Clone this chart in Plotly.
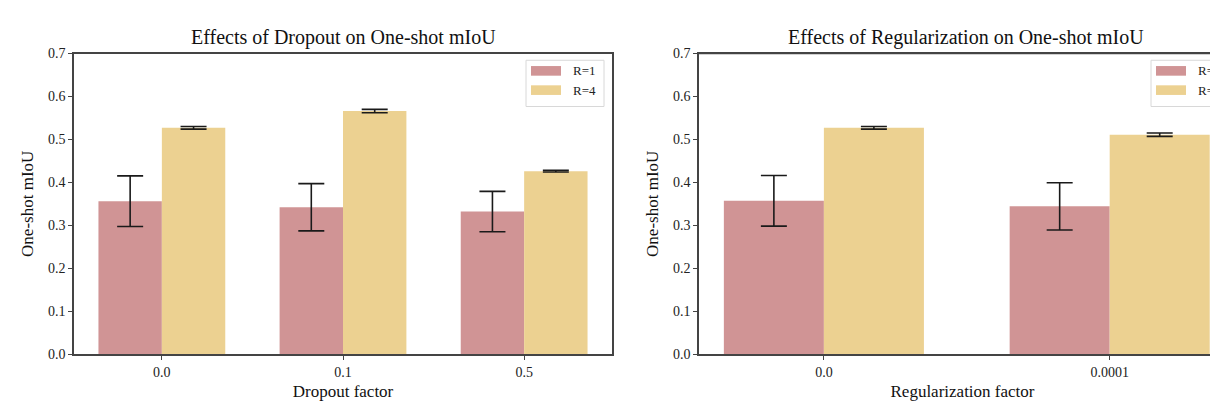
import plotly.graph_objects as go

# ---- data ----
dropout_cats = ["0.0", "0.1", "0.5"]
dropout_r1 = [0.356, 0.342, 0.332]
dropout_r1_err = [0.059, 0.055, 0.047]
dropout_r4 = [0.527, 0.566, 0.426]
dropout_r4_err = [0.003, 0.004, 0.002]

reg_cats = ["0.0", "0.0001"]
reg_r1 = [0.357, 0.344]
reg_r1_err = [0.059, 0.055]
reg_r4 = [0.527, 0.511]
reg_r4_err = [0.003, 0.004]

series_names = ["R=1", "R=4"]
colors = ["#d09495", "#ecd191"]

W, H = 1218, 408
FONT = "Liberation Serif"
AX = "#444444"


def px_x(v):
    return v / W


def px_y(v):
    return 1 - v / H


fig = go.Figure()

err_style = dict(type="data", color="#1a1a1a", thickness=1.6, width=13)

# left panel
fig.add_trace(go.Bar(x=list(range(len(dropout_cats))), y=dropout_r1, name=series_names[0],
                     marker=dict(color=colors[0], line=dict(width=0)),
                     error_y=dict(array=dropout_r1_err, **err_style),
                     xaxis="x", yaxis="y", showlegend=False))
fig.add_trace(go.Bar(x=list(range(len(dropout_cats))), y=dropout_r4, name=series_names[1],
                     marker=dict(color=colors[1], line=dict(width=0)),
                     error_y=dict(array=dropout_r4_err, **err_style),
                     xaxis="x", yaxis="y", showlegend=False))
# right panel
fig.add_trace(go.Bar(x=list(range(len(reg_cats))), y=reg_r1, name=series_names[0],
                     marker=dict(color=colors[0], line=dict(width=0)),
                     error_y=dict(array=reg_r1_err, **err_style),
                     xaxis="x2", yaxis="y2", showlegend=False))
fig.add_trace(go.Bar(x=list(range(len(reg_cats))), y=reg_r4, name=series_names[1],
                     marker=dict(color=colors[1], line=dict(width=0)),
                     error_y=dict(array=reg_r4_err, **err_style),
                     xaxis="x2", yaxis="y2", showlegend=False))

ydom = [px_y(352), px_y(40)]
tickfont = dict(family=FONT, size=14, color="#222")
titlefont = dict(family=FONT, size=17, color="#111")

common_x = dict(showgrid=False, zeroline=False, ticks="outside", ticklen=4, tickwidth=1.2,
                tickcolor=AX, showline=True, linecolor=AX, linewidth=1.5, tickfont=tickfont,
                title_font=titlefont, title_standoff=6)
common_y = dict(showgrid=False, zeroline=False, ticks="outside", ticklen=4, tickwidth=1.2,
                tickcolor=AX, showline=True, linecolor=AX, linewidth=1.5, tickfont=tickfont,
                range=[0, 0.7], tickvals=[0, 0.1, 0.2, 0.3, 0.4, 0.5, 0.6, 0.7],
                tickformat=".1f", title_font=titlefont, title_standoff=10)

fig.update_layout(
    width=W, height=H,
    margin=dict(l=0, r=0, t=0, b=0),
    paper_bgcolor="white", plot_bgcolor="white",
    barmode="group", bargap=0.3, bargroupgap=0,
    font=dict(family=FONT),
    xaxis=dict(domain=[px_x(66), px_x(604)], range=[-0.485, 2.485],
               tickvals=list(range(len(dropout_cats))), ticktext=dropout_cats,
               mirror=True, title_text="Dropout factor", anchor="y", **common_x),
    yaxis=dict(domain=ydom, mirror=True, title_text="One-shot mIoU", anchor="x", **common_y),
    xaxis2=dict(domain=[px_x(691), 1.0], range=[-0.437, 1.407],
                tickvals=list(range(len(reg_cats))), ticktext=reg_cats,
                mirror=True, title_text="Regularization factor", anchor="y2", **common_x),
    yaxis2=dict(domain=ydom, mirror=False, title_text="One-shot mIoU", anchor="x2", **common_y),
)

shapes = []
annotations = []

# titles
annotations.append(dict(text="Effects of Dropout on One-shot mIoU", xref="paper", yref="paper",
                        x=px_x(335), y=px_y(23), xanchor="center", yanchor="middle",
                        showarrow=False, font=dict(family=FONT, size=20, color="#111")))
annotations.append(dict(text="Effects of Regularization on One-shot mIoU", xref="paper", yref="paper",
                        x=px_x(958), y=px_y(23), xanchor="center", yanchor="middle",
                        showarrow=False, font=dict(family=FONT, size=20, color="#111")))


# custom legends (matplotlib style)
def add_legend(x0, x1):
    y0, y1 = 47, 95
    shapes.append(dict(type="rect", xref="paper", yref="paper", x0=px_x(x0), x1=px_x(x1),
                       y0=px_y(y1), y1=px_y(y0), line=dict(color="#d8d8d8", width=1),
                       fillcolor="rgba(255,255,255,0.85)", layer="above"))
    for i, (nm, c) in enumerate(zip(series_names, colors)):
        cy = 58 + i * 20
        shapes.append(dict(type="rect", xref="paper", yref="paper", x0=px_x(x0 + 5), x1=px_x(x0 + 35),
                           y0=px_y(cy + 5), y1=px_y(cy - 5), line=dict(width=0), fillcolor=c,
                           layer="above"))
        annotations.append(dict(text=nm, xref="paper", yref="paper", x=px_x(x0 + 45), y=px_y(cy),
                                xanchor="left", yanchor="middle", showarrow=False,
                                font=dict(family=FONT, size=13, color="#222")))


add_legend(518, 596)
add_legend(1143, 1221)

# top spine of right panel (no right spine visible since clipped)
shapes.append(dict(type="line", xref="paper", yref="paper", x0=px_x(691), x1=1.0,
                   y0=px_y(40), y1=px_y(40), line=dict(color=AX, width=1.5)))

fig.update_layout(shapes=shapes, annotations=annotations)

fig.write_html("out.html")
